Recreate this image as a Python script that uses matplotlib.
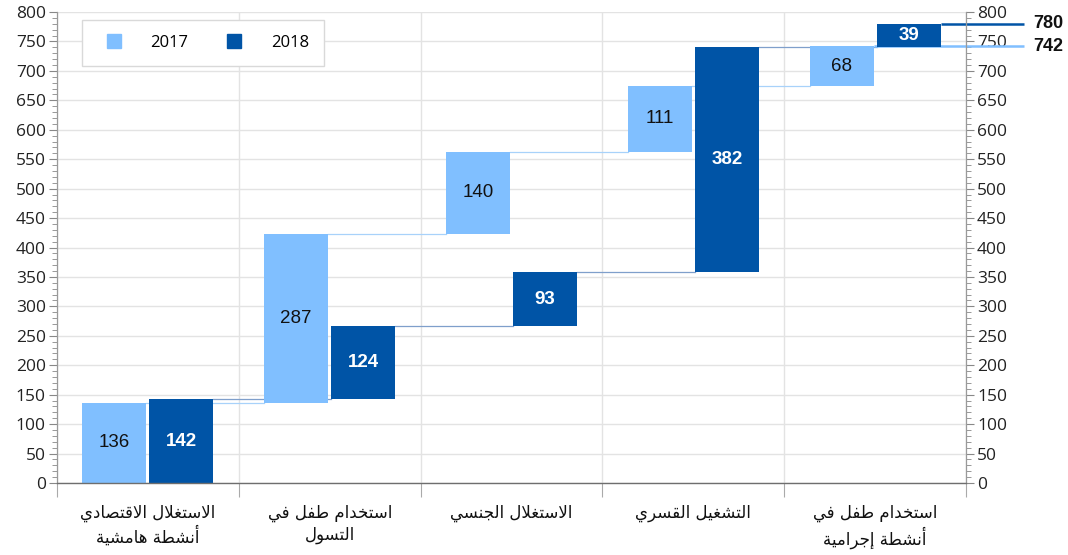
import numpy as np
import matplotlib
matplotlib.use("Agg")
import matplotlib.pyplot as plt
from matplotlib.ticker import MultipleLocator
from matplotlib.lines import Line2D

# ---------------- data ----------------
categories = [
    "الاستغلال الاقتصادي\nأنشطة هامشية",
    "استخدام طفل في\nالتسول",
    "الاستغلال الجنسي",
    "التشغيل القسري",
    "استخدام طفل في\nأنشطة إجرامية",
]
series_names = ["2017", "2018"]
values_2017 = [136, 287, 140, 111, 68]
values_2018 = [142, 124, 93, 382, 39]
y_ticks = [0, 50, 100, 150, 200, 250, 300, 350, 400, 450, 500, 550, 600, 650, 700, 750, 800]

# ---------------- minimal Arabic shaping (presentation forms + RTL order) ----------------
FORMS = {
    'ا': (0xFE8D, 0xFE8E), 'أ': (0xFE83, 0xFE84), 'إ': (0xFE87, 0xFE88),
    'ب': (0xFE8F, 0xFE90, 0xFE91, 0xFE92), 'ة': (0xFE93, 0xFE94),
    'ت': (0xFE95, 0xFE96, 0xFE97, 0xFE98), 'ج': (0xFE9D, 0xFE9E, 0xFE9F, 0xFEA0),
    'ح': (0xFEA1, 0xFEA2, 0xFEA3, 0xFEA4), 'خ': (0xFEA5, 0xFEA6, 0xFEA7, 0xFEA8),
    'د': (0xFEA9, 0xFEAA), 'ر': (0xFEAD, 0xFEAE),
    'س': (0xFEB1, 0xFEB2, 0xFEB3, 0xFEB4), 'ش': (0xFEB5, 0xFEB6, 0xFEB7, 0xFEB8),
    'ص': (0xFEB9, 0xFEBA, 0xFEBB, 0xFEBC), 'ط': (0xFEC1, 0xFEC2, 0xFEC3, 0xFEC4),
    'غ': (0xFECD, 0xFECE, 0xFECF, 0xFED0), 'ف': (0xFED1, 0xFED2, 0xFED3, 0xFED4),
    'ق': (0xFED5, 0xFED6, 0xFED7, 0xFED8), 'ل': (0xFEDD, 0xFEDE, 0xFEDF, 0xFEE0),
    'م': (0xFEE1, 0xFEE2, 0xFEE3, 0xFEE4), 'ن': (0xFEE5, 0xFEE6, 0xFEE7, 0xFEE8),
    'ه': (0xFEE9, 0xFEEA, 0xFEEB, 0xFEEC), 'و': (0xFEED, 0xFEEE),
    'ي': (0xFEF1, 0xFEF2, 0xFEF3, 0xFEF4),
}
LAMALEF = {'ا': (0xFEFB, 0xFEFC), 'أ': (0xFEF7, 0xFEF8), 'إ': (0xFEF9, 0xFEFA)}


def shape_line(line):
    out = []
    n = len(line)
    i = 0
    while i < n:
        c = line[i]
        if c not in FORMS:
            out.append(c)
            i += 1
            continue
        prev_joins = i > 0 and line[i - 1] in FORMS and len(FORMS[line[i - 1]]) == 4
        if c == 'ل' and i + 1 < n and line[i + 1] in LAMALEF:
            lig = LAMALEF[line[i + 1]]
            out.append(chr(lig[1] if prev_joins else lig[0]))
            i += 2
            continue
        f = FORMS[c]
        next_joins = len(f) == 4 and i + 1 < n and line[i + 1] in FORMS
        if len(f) == 2:
            out.append(chr(f[1] if prev_joins else f[0]))
        else:
            if prev_joins and next_joins:
                out.append(chr(f[3]))
            elif prev_joins:
                out.append(chr(f[1]))
            elif next_joins:
                out.append(chr(f[2]))
            else:
                out.append(chr(f[0]))
        i += 1
    return "".join(reversed(out))


def shape(text):
    return "\n".join(shape_line(l) for l in text.split("\n"))


# ---------------- styling ----------------
c17 = "#80BFFF"
c18 = "#0054A6"
conn17 = "#A8D2FA"
conn18 = "#7F9FCB"
grid_c = "#E3E3E3"

fig = plt.figure(figsize=(10.68, 5.55), dpi=100)
ax = fig.add_axes([57 / 1068, 1 - 483 / 555, (966 - 57) / 1068, (483 - 12) / 555])

x = np.arange(len(categories))
off = 0.184
w = 0.352

v17 = np.array(values_2017)
v18 = np.array(values_2018)
cum17 = np.cumsum(v17)
cum18 = np.cumsum(v18)
base17 = cum17 - v17
base18 = cum18 - v18

ax.bar(x - off, v17, width=w, bottom=base17, color=c17, zorder=3, linewidth=0)
ax.bar(x + off, v18, width=w, bottom=base18, color=c18, zorder=3, linewidth=0)

# connectors
for i in range(len(x) - 1):
    ax.plot([x[i] - off + w / 2, x[i + 1] - off - w / 2], [cum17[i], cum17[i]],
            color=conn17, lw=0.9, zorder=2)
    ax.plot([x[i] + off + w / 2, x[i + 1] + off - w / 2], [cum18[i], cum18[i]],
            color=conn18, lw=0.9, zorder=2)

# totals
end_x = 4.82
ax.plot([x[-1] - off + w / 2, end_x], [cum17[-1], cum17[-1]], color=c17, lw=1.8,
        zorder=2, clip_on=False, solid_capstyle="butt")
ax.plot([x[-1] + off + w / 2, end_x], [cum18[-1], cum18[-1]], color=c18, lw=1.8,
        zorder=2, clip_on=False, solid_capstyle="butt")
ax.text(4.87, cum18[-1], str(cum18[-1]), ha="left", va="center", fontsize=13,
        fontweight="bold", family="Liberation Sans", color="#111111", clip_on=False)
ax.text(4.87, cum17[-1], str(cum17[-1]), ha="left", va="center", fontsize=13,
        fontweight="bold", family="Liberation Sans", color="#111111", clip_on=False)

# bar value labels
for i in range(len(x)):
    ax.text(x[i] - off, base17[i] + v17[i] / 2, str(v17[i]), ha="center", va="center",
            fontsize=13.5, family="Liberation Sans", color="#111111", zorder=4)
    ax.text(x[i] + off, base18[i] + v18[i] / 2, str(v18[i]), ha="center", va="center",
            fontsize=13.5, family="Liberation Sans", fontweight="bold", color="white", zorder=4)

# axes
ax.set_xlim(-0.5, len(x) - 0.5)
ax.set_ylim(0, 800)
ax.set_yticks(y_ticks)
ax.yaxis.set_minor_locator(MultipleLocator(10))
ax.set_yticklabels([str(t) for t in y_ticks], family="Open Sans", fontsize=12.5, color="#222222")
ax.yaxis.set_ticks_position("both")
ax.tick_params(axis="y", which="both", direction="out", labelright=True, colors="#888888",
               labelcolor="#222222")
ax.tick_params(axis="y", which="major", length=6, width=0.8, pad=2)
ax.tick_params(axis="y", which="minor", length=3.5, width=0.6)
for lab in ax.get_yticklabels(which="both"):
    lab.set_family("Open Sans")
    lab.set_fontsize(12.5)

ax.set_xticks(np.arange(-0.5, len(x), 1.0))
ax.set_xticklabels([])
ax.tick_params(axis="x", which="major", length=10, width=0.8, color="#AAAAAA")

ax.grid(True, axis="both", which="major", color=grid_c, lw=1, zorder=0)
ax.set_axisbelow(True)

for s in ["left", "right"]:
    ax.spines[s].set_color("#9A9A9A")
    ax.spines[s].set_linewidth(0.9)
ax.spines["top"].set_visible(False)
ax.spines["bottom"].set_color("#6E6E6E")
ax.spines["bottom"].set_linewidth(1.0)
ax.spines["bottom"].set_zorder(5)

# category labels
for i, cat in enumerate(categories):
    ax.text(x[i], -0.045, shape(cat), transform=ax.get_xaxis_transform(), ha="center",
            va="top", fontsize=12, family="DejaVu Sans", color="#111111",
            linespacing=1.25)

# legend
handles = [Line2D([], [], marker="s", linestyle="none", markersize=10.5,
                  markerfacecolor=c, markeredgecolor=c) for c in (c17, c18)]
leg = ax.legend(handles, series_names, loc="upper left", bbox_to_anchor=(0.0275, 0.983),
                borderaxespad=0, ncol=2, frameon=True, fancybox=False, framealpha=1,
                edgecolor="#D9D9D9", borderpad=0.9, handlelength=2.0,
                handletextpad=1.2, columnspacing=1.75,
                prop={"family": "Open Sans", "size": 12})
leg.get_frame().set_linewidth(1)
leg.set_zorder(6)

fig.savefig("out.png", dpi=100)
